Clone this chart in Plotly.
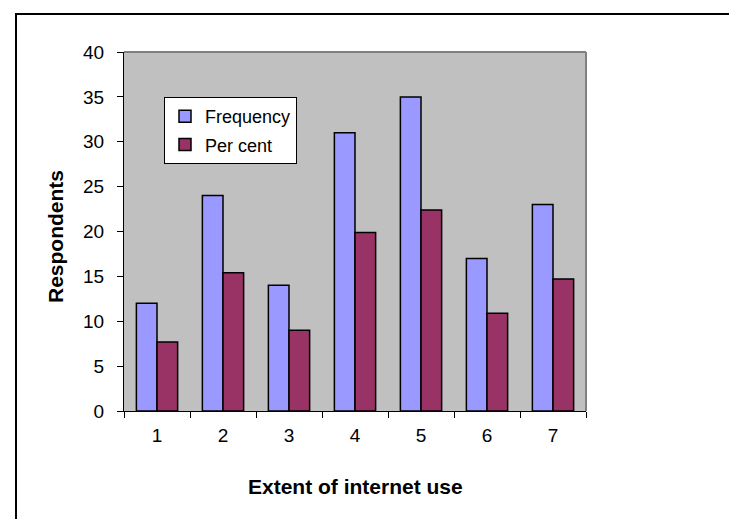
import plotly.graph_objects as go

categories = ["1", "2", "3", "4", "5", "6", "7"]
frequency = [12, 24, 14, 31, 35, 17, 23]
percent = [7.7, 15.4, 9.0, 19.9, 22.4, 10.9, 14.7]
y_ticks = [0, 5, 10, 15, 20, 25, 30, 35, 40]

W, H = 737, 519
L, R, T, B = 116, 578, 44, 403  # plot area in px


def px_x(p):
    return (p - L) / (R - L)


def px_y(p):
    return (B - p) / (B - T)


fig = go.Figure()
fig.add_trace(go.Bar(x=categories, y=frequency, name="Frequency",
                     marker=dict(color="#9999FF", line=dict(color="black", width=1.5)),
                     legendgroup="a"))
fig.add_trace(go.Bar(x=categories, y=percent, name="Per cent",
                     marker=dict(color="#993366", line=dict(color="black", width=1.5)),
                     legendgroup="b"))

font = "Liberation Sans, Arial, sans-serif"

fig.update_layout(
    width=W, height=H,
    margin=dict(l=L, r=W - R, t=T, b=H - B, pad=0),
    paper_bgcolor="white", plot_bgcolor="#C0C0C0",
    barmode="group", bargap=0.375, bargroupgap=0,
    font=dict(family=font, color="black", size=19),
    showlegend=True,
    legend=dict(x=px_x(156), y=px_y(89), xanchor="left", yanchor="top",
                bgcolor="white", bordercolor="black", borderwidth=1,
                font=dict(size=18, family=font), tracegroupgap=2,
                itemwidth=30),
    xaxis=dict(type="category", tickson="boundaries", ticks="outside", ticklen=6,
               tickcolor="black", showline=True, linecolor="black", linewidth=1,
               showgrid=False, zeroline=False, ticklabelstandoff=7,
               tickfont=dict(size=19)),
    yaxis=dict(range=[0, 40], tickvals=y_ticks, ticks="outside", ticklen=6,
               tickcolor="black", showline=True, linecolor="black", linewidth=1,
               showgrid=False, zeroline=False, ticklabelstandoff=9,
               tickfont=dict(size=19)),
    shapes=[
        dict(type="line", xref="paper", yref="paper", x0=0, x1=1, y0=1, y1=1,
             line=dict(color="#808080", width=2)),
        dict(type="line", xref="paper", yref="paper", x0=1, x1=1, y0=0, y1=1,
             line=dict(color="#808080", width=2)),
        dict(type="rect", xref="paper", yref="paper",
             x0=px_x(8), x1=px_x(760), y0=px_y(540), y1=px_y(6),
             line=dict(color="black", width=2), layer="below"),
    ],
    annotations=[
        dict(text="<b>Extent of internet use</b>", xref="paper", yref="paper",
             x=0.5, y=px_y(479), xanchor="center", yanchor="middle",
             showarrow=False, font=dict(size=21, family=font)),
        dict(text="<b>Respondents</b>", xref="paper", yref="paper",
             x=px_x(47), y=px_y(229), xanchor="center", yanchor="middle",
             textangle=-90, showarrow=False, font=dict(size=21, family=font)),
    ],
)

fig.write_html("out.html")
